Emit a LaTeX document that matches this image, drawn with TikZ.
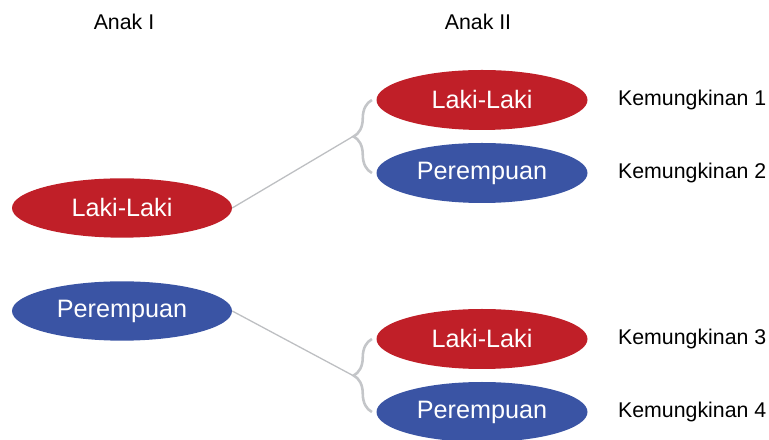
\documentclass[tikz,border=0pt]{standalone}
\usepackage{fontspec}
\setmainfont{Liberation Sans}
\usepackage{xcolor}
\usetikzlibrary{shapes.geometric,decorations.pathreplacing,calc}

\definecolor{merah}{HTML}{C01F28}
\definecolor{biru}{HTML}{3A54A4}
\definecolor{abu}{HTML}{C4C6C9}

\begin{document}
\begin{tikzpicture}[
    bola/.style={ellipse, inner sep=0pt, text=white, font=\fontsize{21.5}{26}\selectfont},
    kiri/.style={bola, minimum width=6.6cm, minimum height=1.78cm},
    kanan/.style={bola, minimum width=6.33cm, minimum height=1.8cm},
    lk/.style={fill=merah},
    pr/.style={fill=biru},
    ket/.style={font=\fontsize{18.2}{22}\selectfont, anchor=west},
    cabang/.style={abu!90!gray, line width=1.1pt},
    kurung/.style={abu, line width=2.2pt, decorate, decoration={brace, amplitude=0.55cm}}]
    \useasboundingbox (0,0) rectangle (23.07,13.2);

    \node[font=\fontsize{18.2}{22}\selectfont] (anak1) at (3.72,12.54) {Anak I};
    \node[font=\fontsize{18.2}{22}\selectfont] (anak2) at (14.34,12.54) {Anak II};

    % anak pertama
    \node[kiri, lk] (ll) at (3.66,6.96) {Laki-Laki};
    \node[kiri, pr] (lp) at (3.66,3.87) {Perempuan};

    % anak kedua
    \node[kanan, lk] (rl1) at (14.46,10.2) {Laki-Laki};
    \node[kanan, pr] (rp1) at (14.46,8.01) {Perempuan};
    \node[kanan, lk] (rl2) at (14.46,3.03) {Laki-Laki};
    \node[kanan, pr] (rp2) at (14.46,0.84) {Perempuan};

    \node[ket] (k1) at (18.42,10.2) {Kemungkinan 1};
    \node[ket] (k2) at (18.42,8.01) {Kemungkinan 2};
    \node[ket] (k3) at (18.42,3.03) {Kemungkinan 3};
    \node[ket] (k4) at (18.42,0.84) {Kemungkinan 4};

    % kurung kurawal
    \draw[kurung] ([xshift=-0.13cm]rp1.west) -- ([xshift=-0.13cm]rl1.west);
    \draw[kurung] ([xshift=-0.13cm]rp2.west) -- ([xshift=-0.13cm]rl2.west);
    \coordinate (ujung1) at ($(rl1.west)!0.5!(rp1.west)+(-0.7,0)$);
    \coordinate (ujung2) at ($(rl2.west)!0.5!(rp2.west)+(-0.7,0)$);

    \draw[cabang] (ll.east) -- (ujung1);
    \draw[cabang] (lp.east) -- (ujung2);
\end{tikzpicture}
\end{document}
